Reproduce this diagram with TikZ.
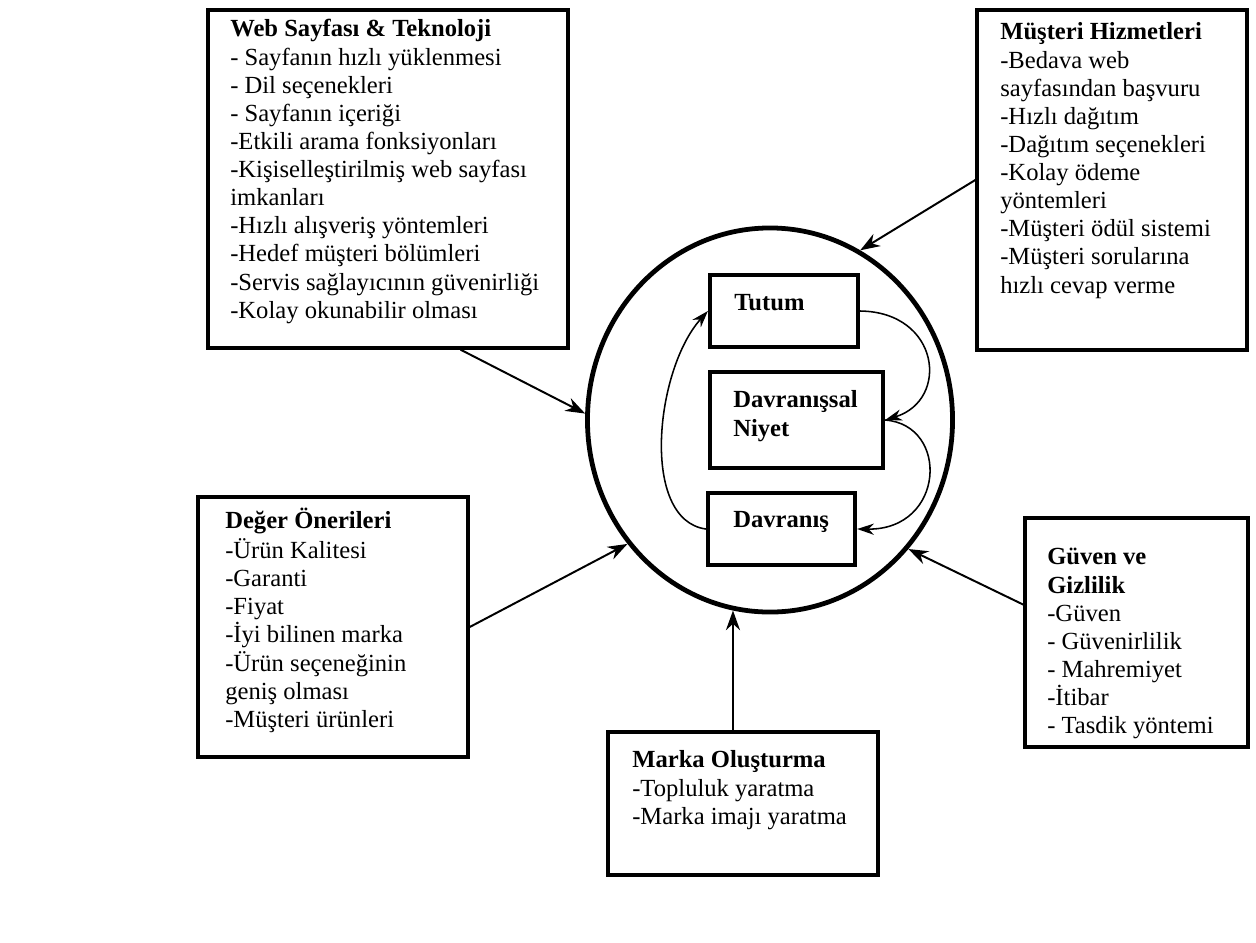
\documentclass[tikz,border=0pt]{standalone}
\usepackage{fontspec}
\setmainfont{Liberation Serif}
\usetikzlibrary{shapes.geometric,arrows.meta,calc}

\begin{document}
\begin{tikzpicture}[line cap=round,x=0.025cm,y=-0.025cm,
    outbox/.style={draw,line width=2.4pt,inner sep=0pt},
    inbox/.style={draw,line width=3pt,inner sep=0pt},
    boxtxt/.style={anchor=north west,inner sep=0pt,align=left,font=\fontsize{17.5}{20}\selectfont},
    conn/.style={line width=1.4pt,-{Stealth[length=14pt,width=10pt]}},
    cycarrow/.style={line width=1.1pt,-{Stealth[length=12pt,width=8pt]}}]

    \useasboundingbox (0,0) rectangle (1256,942);
	%\draw [xstep=100,ystep=100] (0,0) grid (1256,942);

    \node[draw,ellipse,line width=3.4pt,inner sep=0pt,minimum width=9.125cm,minimum height=9.6cm] (circ) at (770,420) {};

    \node[inbox,minimum width=3.7cm,minimum height=1.8cm] (tutum) at (784,311) {};
    \node[inbox,minimum width=4.325cm,minimum height=2.4cm] (niyet) at (796.5,420) {};
    \node[inbox,minimum width=3.675cm,minimum height=1.8cm] (davr) at (781.5,529) {};
    \node[boxtxt] (tutumtxt) at (734,291) {\strut\textbf{Tutum}};
    \node[boxtxt] (niyettxt) at (733,388) {\strut\textbf{Davranışsal}\\\textbf{Niyet}};
    \node[boxtxt] (davrtxt) at (733,508) {\strut\textbf{Davranış}};

    \draw[cycarrow] (tutum.east) .. controls (940,312) and (950,400) .. (niyet.east);
    \draw[cycarrow] (niyet.east) .. controls (950,425) and (945,530) .. (davr.east);
    \draw[cycarrow] (davr.west) .. controls (640,520) and (655,370) .. (tutum.west);

    \node[outbox,minimum width=9cm,minimum height=8.45cm] (web) at (388,179) {};
    \node[boxtxt] (webtxt) at (230,17) {\strut\textbf{Web Sayfası \& Teknoloji}\\
        - Sayfanın hızlı yüklenmesi\\
        - Dil seçenekleri\\
        - Sayfanın içeriği\\
        -Etkili arama fonksiyonları\\
        -Kişiselleştirilmiş web sayfası\\
        imkanları\\
        -Hızlı alışveriş yöntemleri\\
        -Hedef müşteri bölümleri\\
        -Servis sağlayıcının güvenirliği\\
        -Kolay okunabilir olması};

    \node[outbox,minimum width=6.75cm,minimum height=8.5cm] (musteri) at (1112,180) {};
    \node[boxtxt] (mustxt) at (1000,20) {\strut\textbf{Müşteri Hizmetleri}\\
        -Bedava web\\
        sayfasından başvuru\\
        -Hızlı dağıtım\\
        -Dağıtım seçenekleri\\
        -Kolay ödeme\\
        yöntemleri\\
        -Müşteri ödül sistemi\\
        -Müşteri sorularına\\
        hızlı cevap verme};

    \node[outbox,minimum width=6.75cm,minimum height=6.5cm] (deger) at (333,627) {};
    \node[boxtxt] (degtxt) at (225,508) {\strut\textbf{Değer Önerileri}\\
        -Ürün Kalitesi\\
        -Garanti\\
        -Fiyat\\
        -İyi bilinen marka\\
        -Ürün seçeneğinin\\
        geniş olması\\
        -Müşteri ürünleri};

    \node[outbox,minimum width=6.75cm,minimum height=3.575cm] (marka) at (743,803.5) {};
    \node[boxtxt] (marktxt) at (632,748) {\strut\textbf{Marka Oluşturma}\\
        -Topluluk yaratma\\
        -Marka imajı yaratma};

    \node[outbox,minimum width=5.575cm,minimum height=5.725cm] (guven) at (1136.5,632.5) {};
    \node[boxtxt] (guvtxt) at (1047,545) {\strut\textbf{Güven ve}\\
        \textbf{Gizlilik}\\
        -Güven\\
        - Güvenirlilik\\
        - Mahremiyet\\
        -İtibar\\
        - Tasdik yöntemi};

    \draw[conn] ($(web.south west)!0.7!(web.south east)$) -- (circ.178);
    \draw[conn] (musteri.west) -- (circ.62);
    \draw[conn] (deger.east) -- (circ.221);
    \draw[conn] (marka.north -| circ.259) -- (circ.259);
    \draw[conn] ($(guven.north west)!0.38!(guven.south west)$) -- (circ.317);
\end{tikzpicture}
\end{document}
